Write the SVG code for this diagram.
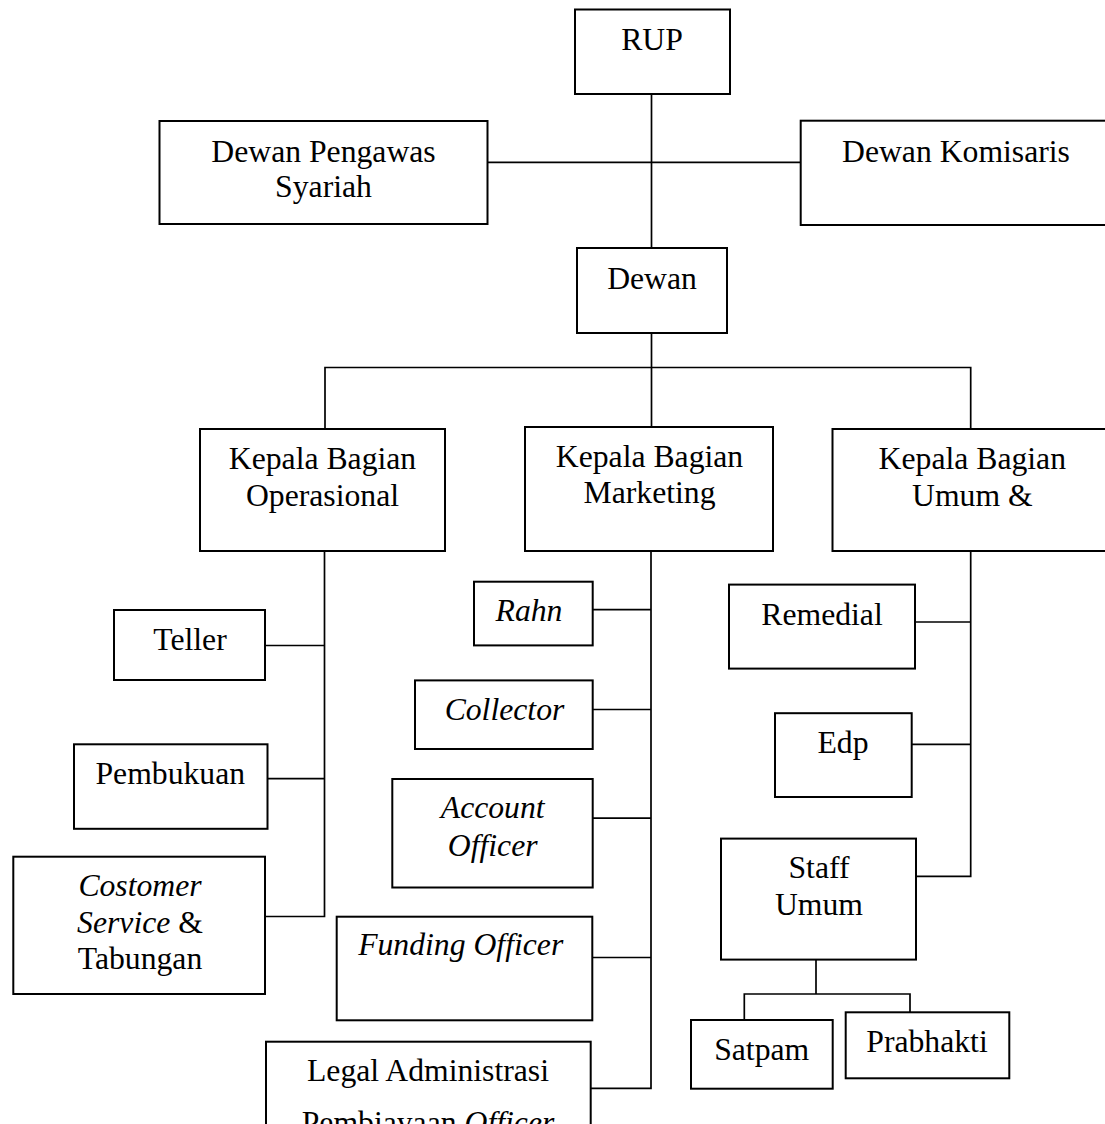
<svg xmlns="http://www.w3.org/2000/svg" width="1105" height="1124" viewBox="0 0 1105 1124">
<style>
.box{fill:#fff;stroke:#000;stroke-width:2}
.t{font-family:"Liberation Serif","Times New Roman",serif;font-size:31.7px;fill:#000;text-anchor:middle}
.i{font-style:italic}
.c{fill:none;stroke:#000;stroke-width:1.7;stroke-linejoin:miter}
</style>
<rect width="1105" height="1124" fill="#fff"/>
<g id="connectors">
<path class="c" d="M651.5 94V248"/>
<path class="c" d="M487.5 162.3H800.7"/>
<path class="c" d="M651.5 333V427"/>
<path class="c" d="M325 429V367.5H970.7V429"/>
<path class="c" d="M324.5 551V916.5H265"/>
<path class="c" d="M265 645.5H324.5"/>
<path class="c" d="M267.5 778.7H324.5"/>
<path class="c" d="M651 551V1088.3H590.7"/>
<path class="c" d="M592.7 609.6H651"/>
<path class="c" d="M592.7 709.5H651"/>
<path class="c" d="M592.7 818.2H651"/>
<path class="c" d="M592.3 957.5H651"/>
<path class="c" d="M970.7 551V876.4H916"/>
<path class="c" d="M915 622H970.7"/>
<path class="c" d="M911.7 744.3H970.7"/>
<path class="c" d="M816 960V994"/>
<path class="c" d="M744.3 1020V994H910V1012.3"/>
</g>
<g id="rup"><rect class="box" x="575" y="9.5" width="155" height="84.5"/><text class="t" x="652" y="49.5">RUP</text></g>
<g id="dps"><rect class="box" x="159.5" y="121" width="328" height="103"/><text class="t" x="323.5" y="162">Dewan Pengawas</text><text class="t" x="323.5" y="197.3">Syariah</text></g>
<g id="komisaris"><rect class="box" x="800.7" y="120.7" width="320" height="104.3"/><text class="t" x="956" y="162.3">Dewan Komisaris</text></g>
<g id="dewan"><rect class="box" x="577" y="248" width="150" height="85"/><text class="t" x="652" y="289">Dewan</text></g>
<g id="kb-operasional"><rect class="box" x="200" y="429" width="245" height="122"/><text class="t" x="322.5" y="469">Kepala Bagian</text><text class="t" x="322.5" y="506">Operasional</text></g>
<g id="kb-marketing"><rect class="box" x="525" y="427" width="248" height="124"/><text class="t" x="649.5" y="466.7">Kepala Bagian</text><text class="t" x="649.5" y="503.3">Marketing</text></g>
<g id="kb-umum"><rect class="box" x="832.5" y="429" width="285" height="122"/><text class="t" x="972.3" y="469.3">Kepala Bagian</text><text class="t" x="972.3" y="506">Umum &amp;</text></g>
<g id="teller"><rect class="box" x="114" y="610" width="151" height="70"/><text class="t" x="190" y="650">Teller</text></g>
<g id="pembukuan"><rect class="box" x="74" y="744.3" width="193.5" height="84.5"/><text class="t" x="170.3" y="784">Pembukuan</text></g>
<g id="costomer"><rect class="box" x="13.3" y="856.7" width="251.7" height="137.3"/><text class="t i" x="140" y="896">Costomer</text><text class="t" x="140" y="932.7"><tspan class="i">Service</tspan> &amp;</text><text class="t" x="140" y="969.3">Tabungan</text></g>
<g id="rahn"><rect class="box" x="474" y="581.7" width="118.7" height="63.7"/><text class="t i" x="529" y="621">Rahn</text></g>
<g id="collector"><rect class="box" x="415" y="680.4" width="177.7" height="68.6"/><text class="t i" x="504.5" y="720">Collector</text></g>
<g id="account-officer"><rect class="box" x="392.3" y="779" width="200.4" height="108.5"/><text class="t i" x="492.7" y="818.2">Account</text><text class="t i" x="492.7" y="855.8">Officer</text></g>
<g id="funding-officer"><rect class="box" x="336.7" y="916.7" width="255.6" height="103.6"/><text class="t i" x="460.7" y="955">Funding Officer</text></g>
<g id="legal"><rect class="box" x="266" y="1041.7" width="324.7" height="100"/><text class="t" x="428" y="1081">Legal Administrasi</text><text class="t" x="428" y="1133">Pembiayaan <tspan class="i">Officer</tspan></text></g>
<g id="remedial"><rect class="box" x="729" y="584.6" width="186" height="84"/><text class="t" x="822" y="625">Remedial</text></g>
<g id="edp"><rect class="box" x="775" y="713.2" width="136.7" height="83.8"/><text class="t" x="843" y="753">Edp</text></g>
<g id="staff-umum"><rect class="box" x="721" y="838.6" width="195" height="121"/><text class="t" x="819" y="877.5">Staff</text><text class="t" x="819" y="915">Umum</text></g>
<g id="satpam"><rect class="box" x="691" y="1020" width="141.7" height="68.7"/><text class="t" x="761.7" y="1060">Satpam</text></g>
<g id="prabhakti"><rect class="box" x="845.7" y="1012.3" width="163.6" height="66"/><text class="t" x="927" y="1051.7">Prabhakti</text></g>
</svg>
